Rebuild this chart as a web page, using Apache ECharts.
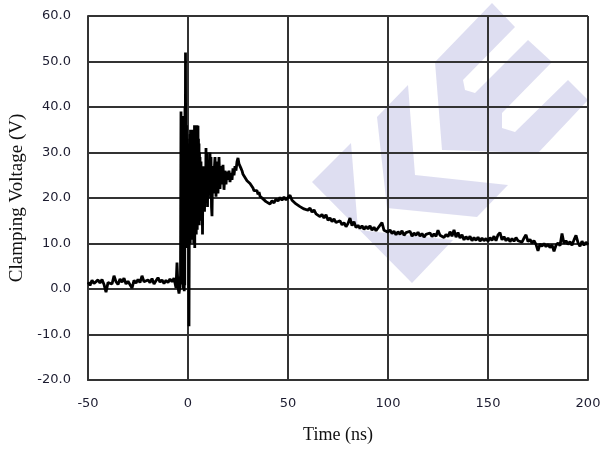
<!DOCTYPE html>
<html>
<head>
<meta charset="utf-8">
<script src="https://cdn.jsdelivr.net/npm/echarts@6/dist/echarts.min.js"></script>
<style>
  html, body { margin: 0; padding: 0; background: #fff; }
  #main { width: 602px; height: 450px; }
</style>
</head>
<body>
<div id="main"></div>
<script>
// axis ticks
var timeTicks = { min: -50, max: 200, step: 50 };
var voltTicks = { min: -20, max: 60, step: 10 };

// waveform, [time ns, volts]
var baselineRun = [
  [-50,1.5],[-49,0.8],[-48,1.9],[-47,1.2],[-46,0.9],[-45,2.0],[-44,1.3],[-43,2.1],[-42,1.0],[-41,-0.7],
  [-40,1.4],[-39,1.8],[-38,1.1],[-37,2.9],[-36,1.6],[-35,1.0],[-34,2.2],[-33,1.5],[-32,2.4],[-31,1.1],
  [-30,1.7],[-29,1.3],[-28,0.2],[-27,1.9],[-26,1.3],[-25,2.1],[-24,1.4],[-23,2.9],[-22,1.6],[-21,1.2],
  [-20,2.0],[-19,1.4],[-18,2.3],[-17,1.1],[-16,1.8],[-15,2.5],[-14,1.5],[-13,2.0],[-12,1.2],[-11,1.9],
  [-10,1.4],[-9,2.2],[-8,1.6],[-7,2.4]
];

var surgeRing = [
  [-6.5,1.3],[-6,0.2],[-5.5,5.8],[-5,0.4],[-4.5,-1.0],[-4,0.6],[-3.75,3.0],
  [-3.5,39],[-3.375,2],[-3.25,36],[-3.125,6],[-3,38],[-2.875,1],[-2.75,37],[-2.625,9],[-2.5,38],[-2.375,0],
  [-2.25,35],[-2.125,4],[-2,36],[-1.875,-0.5],[-1.75,30],[-1.625,0.8],[-1.5,40],[-1.375,20],[-1.25,52],[-1.125,15],
  [-1,34],[-0.875,10],[-0.75,36],[-0.625,12],[-0.5,33],[-0.375,9],[-0.25,32],[-0.125,14],[0,30],[0.125,11],
  [0.25,31],[0.375,2],[0.5,-8.2],[0.625,12],[0.75,32],[0.875,11],[1,34],[1.125,10],[1.25,35],[1.375,12],
  [1.5,34],[1.625,11],[1.75,35],[1.875,12],[2,33],[2.125,10.8],[2.25,34],[2.375,13],[2.5,35],[2.625,11],
  [2.75,34],[2.875,10],[3,35],[3.125,13],[3.25,36],[3.375,9],[3.5,35],[3.625,12],[3.75,36],[3.875,14],
  [4,35.5],[4.125,12],[4.25,34],[4.375,14],[4.5,36],[4.625,13],[4.75,35],[4.875,15],[5,35.9],[5.125,14],
  [5.25,33],[5.375,16],[5.5,32],[5.625,14],[5.75,30],[5.875,17],[6,29],[6.25,16],[6.5,28],[6.75,15],
  [7,26],[7.25,12],[7.5,27],[7.75,18],[8,25],[8.25,17],[8.5,24],[8.75,20],[9,31],[9.25,19],
  [9.5,30],[9.75,18],[10,28],[10.25,20],[10.5,27],[10.75,22],[11,30],[11.25,21],[11.5,29],[11.75,18],
  [12,16],[12.25,24],[12.5,27],[12.75,21],[13,25],[13.5,29],[14,20.3],[14.5,28],[15,21],[15.5,29],
  [16,22],[16.5,27],[17,23],[17.5,27.3],[18,21.8],[18.5,26],[19,23],[19.5,25.8],[20,24],[20.5,26],
  [21,23.5],[21.5,25.5],[22,24],[22.5,26.5],[23,25],[23.5,27],[24,26],[24.5,28],[25,28.8],[25.5,27.5],
  [26,27.8],[26.5,26.5],[27,26],[27.5,25.2],[28,25.4],[28.5,24.5],[29,24.8],[29.5,23.8],[30,24.2]
];

var decayRun = [
  [30.5,23.5],[31,23.2],[31.5,22.8],[32,23.0],[32.5,22.2],[33,21.6],[33.5,22.0],[34,21.2],[34.5,21.6],[35,20.8],
  [35.5,21.3],[36,20.4],[36.5,20.0],[37,20.6],[37.5,19.8],[38,19.4],[38.5,19.9],[39,19.2],[39.5,18.8],[40,19.3],
  [41,18.7],[42,19.4],[43,18.9],[44,19.8],[45,19.3],[46,20.1],[47,19.5],[48,20.2],[49,19.6],[50,20.1],
  [51,20.6],[52,19.5],[53,19.8],[54,18.7],[55,18.9],[56,18.1],[57,18.4],[58,17.6],[59,18.0],[60,17.3]
];

var tailRun = [
  [61,17.8],[62,16.9],[63,17.4],[64,16.5],[65,16.9],[66,15.9],[67,16.4],[68,15.6],[69,16.3],[70,15.1],
  [71,15.6],[72,14.8],[73,15.4],[74,14.6],[75,14.2],[76,15.0],[77,14.1],[78,14.6],[79,13.7],[80,14.4],
  [81,15.6],[82,13.9],[83,14.8],[84,13.5],[85,14.0],[86,13.3],[87,13.9],[88,13.1],[89,13.8],[90,13.2],
  [91,13.9],[92,12.9],[93,13.6],[94,12.8],[95,13.4],[96,13.0],[97,14.6],[98,12.9],[99,13.3],[100,12.5],
  [101,13.0],[102,12.2],[103,12.7],[104,11.9],[105,12.6],[106,12.0],[107,12.8],[108,11.8],[109,12.4],[110,12.0],
  [111,12.7],[112,11.6],[113,12.3],[114,11.8],[115,12.5],[116,11.6],[117,12.2],[118,11.4],[119,12.0],[120,11.7],
  [121,12.3],[122,11.5],[123,12.1],[124,11.6],[125,12.9],[126,11.8],[127,12.2],[128,11.3],[129,12.0],[130,11.5],
  [131,12.6],[132,11.6],[133,13.0],[134,11.4],[135,12.4],[136,11.2],[137,11.9],[138,10.8],[139,11.5],[140,10.9],
  [141,11.6],[142,10.6],[143,11.3],[144,10.7],[145,11.4],[146,10.5],[147,11.2],[148,10.6],[149,11.1],[150,10.5],
  [151,11.3],[152,10.7],[153,11.6],[154,10.6],[155,11.9],[156,12.4],[157,10.8],[158,11.5],[159,10.6],[160,11.2],
  [161,10.4],[162,11.1],[163,10.5],[164,11.3],[165,10.6],[166,11.0],[167,10.3],[168,11.2],[169,11.9],[170,10.4],
  [171,10.9],[172,10.1],[173,10.6],[174,9.8],[175,8.4],[176,9.9],[177,9.4],[178,10.0],[179,9.3],[180,9.8],
  [181,9.1],[182,9.7],[183,8.3],[184,9.6],[185,10.1],[186,9.5],[187,12.2],[188,10.0],[189,10.6],[190,9.8],
  [191,10.4],[192,9.6],[193,10.8],[194,11.8],[195,10.2],[196,9.4],[197,10.5],[198,9.6],[199,10.3],[200,9.7]
];

var waveform = baselineRun.concat(surgeRing, decayRun, tailRun);

var chart = echarts.init(document.getElementById('main'));

var gridColor = '#333';
var labelFont = { color: '#1c1c30', fontFamily: 'DejaVu Sans', fontSize: 13 };

// faint logo watermark, see-through so grid lines stay visible
var markFill = 'rgba(160,160,215,0.35)';
var watermark = [
  [[312,182],[351,143],[358,230],[453,240],[412,283]],
  [[377,117],[408,85],[415,175],[508,185],[477,217],[387,208]],
  [[435,62],[492,3],[515,27],[463,80],[465,90],[475,93],[528,40],[552,62],[502,113],[502,128],
   [515,132],[568,80],[588,100],[538,153],[442,150]]
];

var frameAxis = {
  type: 'value', min: 0, max: 1,
  axisLine: { show: true, lineStyle: { color: gridColor, width: 2 } },
  axisTick: { show: false }, axisLabel: { show: false }, splitLine: { show: false }
};

var option = {
  animation: false,
  backgroundColor: '#fff',
  grid: { left: 88, right: 14, top: 16, bottom: 70, outerBoundsMode: 'none' },
  graphic: watermark.map(function (pts) {
    return { type: 'polygon', silent: true, shape: { points: pts }, style: { fill: markFill } };
  }),
  xAxis: [{
    type: 'value',
    min: timeTicks.min, max: timeTicks.max, interval: timeTicks.step,
    name: 'Time (ns)', nameLocation: 'middle', nameGap: 46,
    nameTextStyle: { color: '#111', fontFamily: 'Liberation Serif', fontSize: 18 },
    axisLine: { show: true, onZero: false, lineStyle: { color: gridColor, width: 2 } },
    axisTick: { show: false },
    axisLabel: Object.assign({ margin: 17 }, labelFont),
    splitLine: { show: true, lineStyle: { color: gridColor, width: 2 } }
  }, Object.assign({ position: 'top' }, frameAxis)],
  yAxis: [{
    type: 'value',
    min: voltTicks.min, max: voltTicks.max, interval: voltTicks.step,
    name: 'Clamping Voltage (V)', nameLocation: 'middle', nameGap: 60,
    nameTextStyle: { color: '#111', fontFamily: 'Liberation Serif', fontSize: 19 },
    axisLine: { show: true, onZero: false, lineStyle: { color: gridColor, width: 2 } },
    axisTick: { show: false },
    axisLabel: Object.assign({ margin: 17, formatter: function (v) { return v.toFixed(1); } }, labelFont),
    splitLine: { show: true, lineStyle: { color: gridColor, width: 2 } }
  }, Object.assign({ position: 'right' }, frameAxis)],
  series: [{
    type: 'line',
    data: waveform,
    showSymbol: false,
    symbol: 'none',
    lineStyle: { color: '#000', width: 2.8 },
    z: 5
  }]
};
chart.setOption(option);
</script>
</body>
</html>
